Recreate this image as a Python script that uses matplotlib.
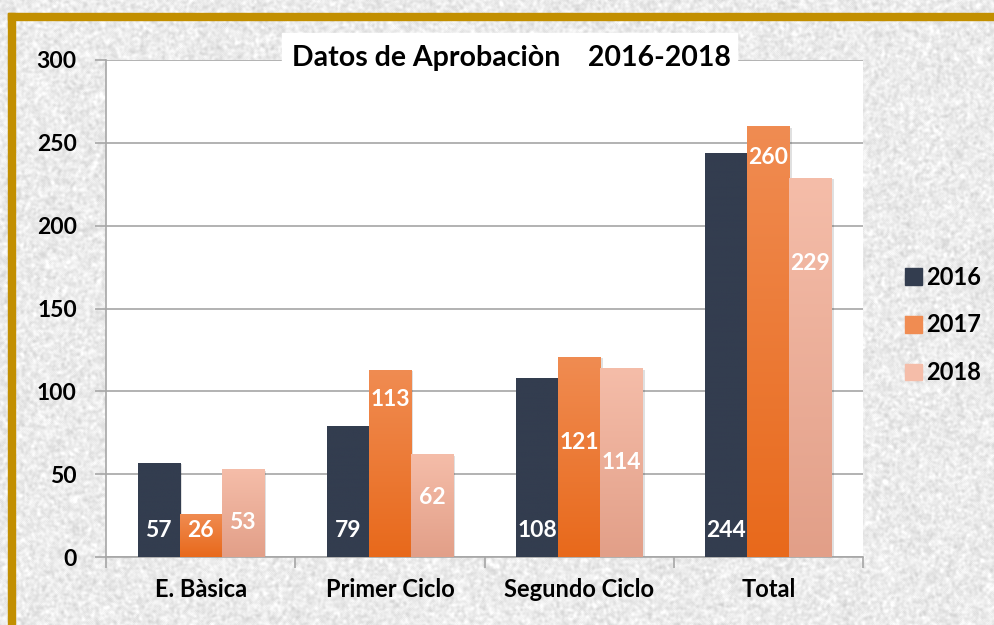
import numpy as np
import matplotlib
matplotlib.use("Agg")
import matplotlib.pyplot as plt
from matplotlib.patches import Rectangle
import matplotlib.transforms as mtransforms

categories = ["E. Bàsica", "Primer Ciclo", "Segundo Ciclo", "Total"]
series = ["2016", "2017", "2018"]
v2016 = [57, 79, 108, 244]
v2017 = [26, 113, 121, 260]
v2018 = [53, 62, 114, 229]
# where each value label sits (data units), as placed in the original
lab2016 = [16, 16, 16, 16]
lab2017 = [16, 95, 69, 241]
lab2018 = [21, 36, 57, 177]
yticks = [0, 50, 100, 150, 200, 250, 300]

FONT = "Lato"
W, H = 994, 625
fig = plt.figure(figsize=(W / 100, H / 100), dpi=100)

# granite-like backdrop (decoration only)
rng = np.random.default_rng(3)
tex = rng.random((H, W))
for _ in range(3):
    tex = (tex + np.roll(tex, 1, 0) + np.roll(tex, 1, 1)
           + np.roll(tex, -1, 0) + np.roll(tex, -1, 1)) / 5
tex = (tex - tex.mean()) / tex.std()
gray = np.clip(0.925 + 0.028 * tex, 0.80, 1.0)
fig.figimage(np.dstack([gray, gray, gray]), 0, 0, zorder=-10)

# gold frame, left and top
gold = "#C28F00"
fig.add_artist(Rectangle((8 / W, 0), 7 / W, 1 - 13 / H, transform=fig.transFigure,
                         color=gold, zorder=-5))
fig.add_artist(Rectangle((8 / W, 1 - 20 / H), 1, 7 / H, transform=fig.transFigure,
                         color=gold, zorder=-5))

ax = fig.add_axes([106 / W, 68 / H, 757 / W, 497 / H])
ax.set_facecolor("white")

x = np.arange(len(categories))
bw = 0.222
grads = [("#333D4F", "#333D4F"), ("#F08C52", "#E8691B"), ("#F5BDA9", "#E29F88")]
vals = [v2016, v2017, v2018]
labs = [lab2016, lab2017, lab2018]

shadow_off = mtransforms.offset_copy(ax.transData, fig=fig, x=2.5, y=-1.5, units="dots")
for i, (vs, (ctop, cbot)) in enumerate(zip(vals, grads)):
    xs = x + (i - 1) * bw
    ax.bar(xs, vs, bw, color="#000000", alpha=0.12, transform=shadow_off, zorder=2)
    bars = ax.bar(xs, vs, bw, color="none", zorder=3)
    c0 = np.array(matplotlib.colors.to_rgb(ctop))
    c1 = np.array(matplotlib.colors.to_rgb(cbot))
    t = np.linspace(0, 1, 256)[:, None]
    grad = (c0 * (1 - t) + c1 * t)[:, None, :]
    for b, v in zip(bars, vs):
        im = ax.imshow(grad, extent=[b.get_x(), b.get_x() + bw, 0, v],
                       aspect="auto", origin="upper", zorder=3)
        im.set_clip_path(b)
    for xx, v, ly in zip(xs, vs, labs[i]):
        ax.text(xx, ly, str(v), ha="center", va="center", color="white",
                fontsize=16.5, fontweight="bold", family=FONT, zorder=5)

ax.set_xlim(-0.5, 3.5)
ax.set_ylim(0, 300)
ax.set_yticks(yticks)
ax.set_yticklabels([str(v) for v in yticks], fontsize=16.5, fontweight="bold", family=FONT)
ax.yaxis.grid(True, color="#A6A6A6", linewidth=1.2, zorder=0)
ax.set_axisbelow(True)
ax.set_xticks(np.arange(-0.5, 4, 1))
ax.set_xticklabels([])
ax.set_xticks(x, minor=True)
ax.set_xticklabels(categories, minor=True, fontsize=17, fontweight="bold", family=FONT)
ax.tick_params(axis="x", which="major", length=8, color="#A6A6A6", width=1.2)
ax.tick_params(axis="x", which="minor", length=0, pad=15)
ax.tick_params(axis="y", length=8, color="#A6A6A6", width=1.2, pad=13)
for s in ["top", "right"]:
    ax.spines[s].set_visible(False)
for s in ["left", "bottom"]:
    ax.spines[s].set_color("#A6A6A6")
    ax.spines[s].set_linewidth(1.2)

# title on its own white box
fig.add_artist(Rectangle((282 / W, 1 - 67 / H), 455 / W, 34 / H,
                         transform=fig.transFigure, color="white", zorder=1))
fig.text(511 / W, 1 - 58 / H, "Datos de Aprobaciòn    2016-2018", ha="center",
         va="center", fontsize=20.5, fontweight="bold", family=FONT, zorder=2)

# legend
handles = [Rectangle((0, 0), 1, 1, color=c[0]) for c in grads]
ax.legend(handles, series, loc="center left", bbox_to_anchor=(905 / W, 1 - 325 / H),
          bbox_transform=fig.transFigure, frameon=False, handlelength=0.7,
          handleheight=0.7, handletextpad=0.2, labelspacing=1.05,
          borderpad=0, borderaxespad=0,
          prop={"family": FONT, "weight": "bold", "size": 17})

fig.savefig("out.png", dpi=100)
